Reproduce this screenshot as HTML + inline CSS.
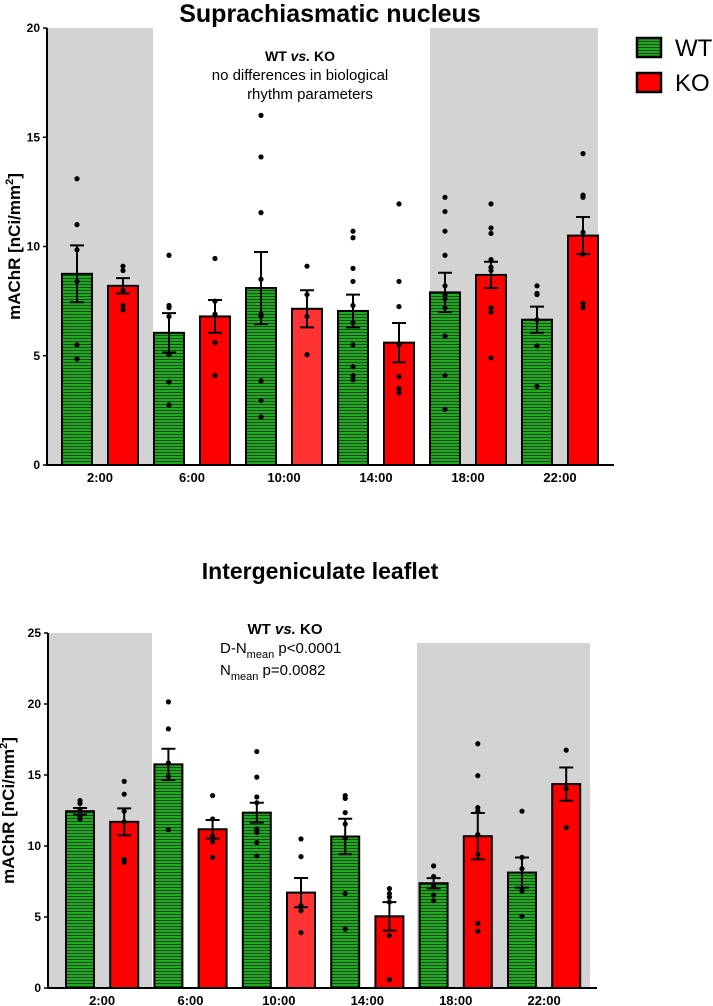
<!DOCTYPE html>
<html><head><meta charset="utf-8"><style>
body{margin:0;background:#fff;width:713px;height:1006px;overflow:hidden}
svg{display:block;font-family:"Liberation Sans",Arial,sans-serif}
</style></head><body>
<svg id="chart" width="713" height="1006" viewBox="0 0 713 1006">
<defs>
<pattern id="hatch" patternUnits="userSpaceOnUse" width="6" height="3">
<rect width="6" height="3" fill="#22a822"/><rect y="2" width="6" height="1" fill="#0a4a0a"/>
</pattern>
</defs>
</svg>
<script>
const categories=["2:00","6:00","10:00","14:00","18:00","22:00"];
// Suprachiasmatic nucleus
const scnWT=[8.75,6.05,8.1,7.05,7.9,6.65];
const scnKO=[8.2,6.8,7.15,5.6,8.7,10.5];
const scnWTsem=[1.3,0.9,1.65,0.75,0.9,0.6];
const scnKOsem=[0.35,0.75,0.85,0.9,0.6,0.85];
const scnWTpts=[[13.1,11.0,9.85,8.4,5.5,4.85],[9.6,7.3,7.2,6.8,5.05,3.8,2.75],[16.0,14.1,11.55,8.5,6.9,6.8,3.85,2.95,2.2],[10.7,10.4,9.0,8.4,7.3,6.5,5.5,4.5,4.1,3.9],[12.25,11.6,10.7,9.6,8.2,7.8,7.6,7.2,5.9,4.1,2.55],[8.2,7.85,7.8,6.65,5.45,3.6]];
const scnKOpts=[[9.1,8.9,8.0,7.3,7.1],[9.45,7.5,6.9,5.6,4.1],[9.1,7.8,6.8,5.05],[11.95,8.4,7.25,5.5,4.05,3.5,3.3],[11.95,10.85,10.6,9.4,9.05,8.9,7.2,7.0,4.9],[14.25,12.35,12.25,10.65,9.65,7.4,7.2]];
const scnTicks=[0,5,10,15,20];
// Intergeniculate leaflet
const iglWT=[12.45,15.75,12.35,10.67,7.38,8.13];
const iglKO=[11.7,11.18,6.72,5.05,10.69,14.36];
const iglWTsem=[0.23,1.1,0.7,1.25,0.36,1.06];
const iglKOsem=[0.95,0.65,1.03,1.0,1.63,1.17];
const iglWTpts=[[13.2,13.0,12.6,12.1,11.9],[20.15,18.25,15.85,14.9,11.15],[16.65,14.85,13.45,13.05,11.2,10.95,10.25,9.3],[13.55,13.35,12.35,11.55,10.55,6.65,4.15],[8.6,7.85,7.2,6.55,6.15],[12.45,9.2,8.4,6.85,5.05]];
const iglKOpts=[[14.55,13.65,12.45,11.7,9.05,8.85],[13.55,11.9,10.7,10.3,9.2],[10.5,9.25,5.8,5.45,3.9],[7.0,6.65,6.4,6.05,3.7,0.6],[17.2,14.95,12.7,12.45,10.8,9.4,4.55,4.0],[16.75,14.05,11.3]];
const iglTicks=[0,5,10,15,20,25];

const NS="http://www.w3.org/2000/svg";
const svg=document.getElementById('chart');
function mk(tag,attrs,parent,text){const e=document.createElementNS(NS,tag);for(const k in attrs)e.setAttribute(k,attrs[k]);if(text!==undefined)e.textContent=text;(parent||svg).appendChild(e);return e;}

function drawPanel(p){
  const g=mk('g',{});
  
  
  const y=v=>p.y0-(v/p.ymax)*(p.y0-p.yTop);
  const xc=(i,s)=>p.x0+p.first+i*2*p.pitch+s*p.pitch;
  p.shades.forEach((s,k)=>{
    const r=mk('rect',{x:s[0],y:s[2],width:s[1]-s[0],height:p.y0-s[2],fill:'#d3d3d3'},g);
    
    
  });
  const series=[[p.wt,p.wtSem,p.wtPts,'url(#hatch)','wt'],[p.ko,p.koSem,p.koPts,'#ff0000','ko']];
  categories.forEach((c,i)=>{
    series.forEach((s,si)=>{
      const cx=xc(i,si),v=s[0][i],e=s[1][i];
      const fill=(si===1&&i===2)?'#ff3333':s[3];
      const b=mk('rect',{x:cx-p.bw/2,y:y(v),width:p.bw,height:p.y0-y(v),fill:fill,stroke:'#000','stroke-width':2},g);
      
      
      s[2][i].forEach(pt=>{
        const d=mk('circle',{cx:cx,cy:y(pt),r:2.6,fill:'#000'},g);
        
        
      });
      const eb=mk('path',{d:`M${cx},${y(v+e)}V${y(v-e)}M${cx-7},${y(v+e)}H${cx+7}M${cx-7},${y(v-e)}H${cx+7}`,stroke:'#000','stroke-width':2,fill:'none'},g);
      
      
    });
    const t=mk('text',{x:(xc(i,0)+xc(i,1))/2,y:p.y0+17,'text-anchor':'middle','font-size':13,'font-weight':'bold'},g,c);
    
    
  });
  const ax=mk('path',{d:`M${p.x0},${p.yTop}V${p.y0}H${p.xEnd}`,stroke:'#000','stroke-width':2,fill:'none'},g);
  
  
  p.ticks.forEach(tv=>{
    const tk=mk('line',{x1:p.x0-4,x2:p.x0,y1:y(tv),y2:y(tv),stroke:'#000','stroke-width':1.5},g);
    
    
    const tl=mk('text',{x:p.x0-7,y:y(tv)+4,'text-anchor':'end','font-size':12,'font-weight':'bold'},g,tv);
    
    
  });
  const yt=mk('text',{x:0,y:0,transform:`translate(${p.ytx},${(p.y0+p.yTop)/2}) rotate(-90)`,'text-anchor':'middle','font-size':17,'font-weight':'bold'},g);
  
  
  yt.innerHTML='mAChR [nCi/mm<tspan dy="-7" font-size="11">2</tspan><tspan dy="7">]</tspan>';
}

drawPanel({name:'scn-chart',x0:47,xEnd:614,y0:465,yTop:28,ymax:20,first:30,pitch:46,bw:30,
  shades:[[48,153,28],[430,598,28]],wt:scnWT,ko:scnKO,wtSem:scnWTsem,koSem:scnKOsem,wtPts:scnWTpts,koPts:scnKOpts,ticks:scnTicks,ytx:20});
drawPanel({name:'igl-chart',x0:48,xEnd:597,y0:988,yTop:633,ymax:25,first:32,pitch:44.2,bw:28,
  shades:[[49,152,633],[417,590,643]],wt:iglWT,ko:iglKO,wtSem:iglWTsem,koSem:iglKOsem,wtPts:iglWTpts,koPts:iglKOpts,ticks:iglTicks,ytx:14});

// titles & annotations
let t;
t=mk('text',{x:330,y:22,'text-anchor':'middle','font-size':25,'font-weight':'bold'},svg,'Suprachiasmatic nucleus');

t=mk('text',{x:320,y:579,'text-anchor':'middle','font-size':23,'font-weight':'bold'},svg,'Intergeniculate leaflet');

t=mk('text',{x:300,y:61,'text-anchor':'middle','font-size':14});
t.innerHTML='<tspan font-weight="bold">WT <tspan font-style="italic">vs.</tspan> KO</tspan>';

t=mk('text',{x:300,y:80,'text-anchor':'middle','font-size':15},svg,'no differences in biological');

t=mk('text',{x:310,y:99,'text-anchor':'middle','font-size':15},svg,'rhythm parameters');

t=mk('text',{x:285,y:634,'text-anchor':'middle','font-size':15});
t.innerHTML='<tspan font-weight="bold">WT <tspan font-style="italic">vs.</tspan> KO</tspan>';

t=mk('text',{x:220,y:653,'font-size':15});
t.innerHTML='D-N<tspan dy="5" font-size="11">mean</tspan><tspan dy="-5"> p&lt;0.0001</tspan>';

t=mk('text',{x:220,y:675,'font-size':15});
t.innerHTML='N<tspan dy="5" font-size="11">mean</tspan><tspan dy="-5"> p=0.0082</tspan>';


// legend
let r=mk('rect',{x:637,y:38,width:24,height:19,fill:'url(#hatch)',stroke:'#000','stroke-width':2.5});

t=mk('text',{x:675,y:56,'font-size':24},svg,'WT');

r=mk('rect',{x:637,y:73,width:24,height:19,fill:'#ff0000',stroke:'#000','stroke-width':2.5});

t=mk('text',{x:675,y:91,'font-size':24},svg,'KO');

</script>
</body></html>
